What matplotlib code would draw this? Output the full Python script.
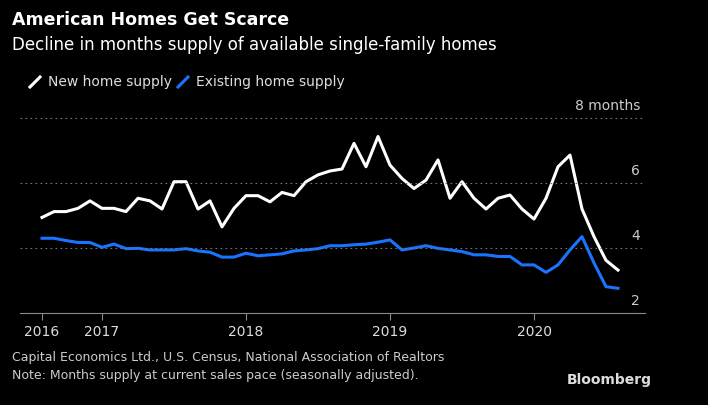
import matplotlib
matplotlib.use("Agg")
import matplotlib.pyplot as plt

new_supply = [4.94,5.12,5.12,5.22,5.45,5.22,5.22,5.12,5.53,5.45,5.2,6.04,6.04,5.2,5.45,4.65,5.22,5.61,5.61,5.42,5.71,5.61,6.04,6.25,6.37,6.43,7.22,
              6.5,7.43,6.55,6.14,5.83,6.09,6.71,5.53,6.04,5.53,5.2,5.53,5.63,5.2,4.89,5.53,6.5,6.86,5.2,4.35,3.62,3.32]
existing_supply = [4.30,4.30,4.23,4.17,4.17,4.02,4.12,3.98,3.99,3.94,3.94,3.94,3.98,3.91,3.87,3.72,3.72,3.84,3.76,3.79,3.82,3.91,3.94,3.98,4.07,4.07,4.10,
                   4.12,4.18,4.25,3.94,4.0,4.07,3.99,3.94,3.89,3.79,3.79,3.74,3.74,3.48,3.48,3.25,3.48,3.94,4.35,3.54,2.81,2.76]
year_labels = ["2016", "2017", "2018", "2019", "2020"]
year_pos = [0, 5, 17, 29, 41]
y_ticks = [2, 4, 6, 8]

W, H = 708, 405
fig = plt.figure(figsize=(W/100, H/100), dpi=100, facecolor="black")
ax = fig.add_axes([20/W, (H-313)/H, 625/W, 205/H], facecolor="black")
x = list(range(len(new_supply)))
ax.plot(x, new_supply, color="white", lw=2.2)
ax.plot(x, existing_supply, color="#1a73ff", lw=2.2)
ax.set_xlim(-22/12, 603/12)
ax.set_ylim(2, 2 + 205/32.5)
for v in [4, 6, 8]:
    ax.axhline(v, color="#777777", lw=0.8, ls=(0, (1.5, 3)))
for v in y_ticks:
    lab = "8 months" if v == 8 else str(v)
    ax.text(603/12 - 0.4, v + 0.15, lab, color="#cccccc", fontsize=10, ha="right", va="bottom")
for s in ["top", "right", "left"]:
    ax.spines[s].set_visible(False)
ax.spines["bottom"].set_color("#888888")
ax.set_yticks([])
ax.set_xticks(year_pos)
ax.set_xticklabels(year_labels, color="#dddddd", fontsize=10)
ax.tick_params(axis="x", colors="#888888", length=5, labelcolor="#dddddd", pad=4)

fig.text(12/W, 1 - 20/H, "American Homes Get Scarce", color="white", fontsize=12.5, fontweight="bold", va="center")
fig.text(12/W, 1 - 45/H, "Decline in months supply of available single-family homes", color="white", fontsize=12, va="center")
ly = 1 - 82/H
fig.add_artist(plt.Line2D([30/W, 40/W], [ly - 5/H, ly + 5/H], color="white", lw=2.2))
fig.text(48/W, ly, "New home supply", color="#dddddd", fontsize=10, va="center")
fig.add_artist(plt.Line2D([178/W, 188/W], [ly - 5/H, ly + 5/H], color="#1a73ff", lw=2.2))
fig.text(196/W, ly, "Existing home supply", color="#dddddd", fontsize=10, va="center")

fig.text(12/W, 1 - 358/H, "Capital Economics Ltd., U.S. Census, National Association of Realtors", color="#cccccc", fontsize=9, va="center")
fig.text(12/W, 1 - 375/H, "Note: Months supply at current sales pace (seasonally adjusted).", color="#cccccc", fontsize=9, va="center")
fig.text(652/W, 1 - 380/H, "Bloomberg", color="#dddddd", fontsize=10, fontweight="bold", ha="right", va="center")

fig.savefig("out.png", dpi=100, facecolor="black")
